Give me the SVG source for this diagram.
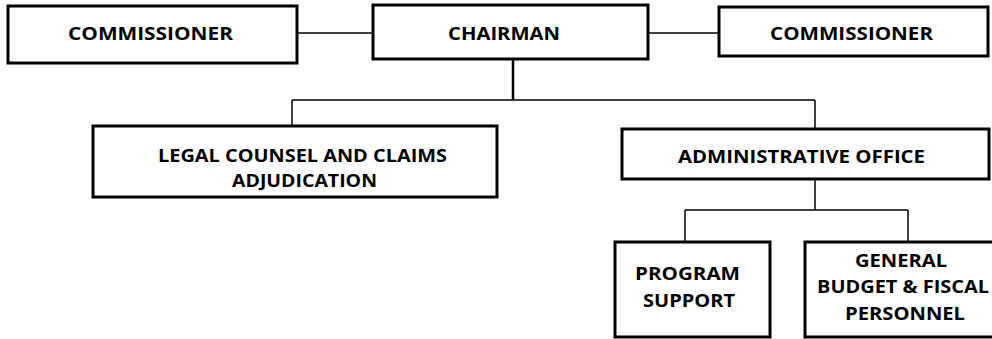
<svg xmlns="http://www.w3.org/2000/svg" width="992" height="339" viewBox="0 0 992 339">
<style>
.box{fill:#fff;stroke:#000;stroke-width:3}
.t{font-family:"Open Sans","Liberation Sans",sans-serif;font-weight:700;font-size:18.5px;fill:#000;text-anchor:middle}
.c{stroke:#000;stroke-width:1.5;fill:none}
</style>
<rect width="992" height="339" fill="#fff"/>
<g id="connectors">
<line class="c" x1="297" y1="33" x2="373" y2="33"/>
<line class="c" x1="648" y1="33" x2="719" y2="33"/>
<line class="c" x1="513" y1="59" x2="513" y2="100" style="stroke-width:2.5"/>
<line class="c" x1="292" y1="100" x2="815" y2="100"/>
<line class="c" x1="292" y1="100" x2="292" y2="126"/>
<line class="c" x1="815" y1="100" x2="815" y2="129"/>
<line class="c" x1="815" y1="179" x2="815" y2="210"/>
<line class="c" x1="685" y1="210" x2="908" y2="210"/>
<line class="c" x1="685" y1="210" x2="685" y2="242"/>
<line class="c" x1="908" y1="210" x2="908" y2="242"/>
</g>
<g id="commissioner-left">
<rect class="box" x="8" y="6" width="289" height="57"/>
<text class="t" x="150.5" y="40" textLength="165" lengthAdjust="spacingAndGlyphs">COMMISSIONER</text>
</g>
<g id="chairman">
<rect class="box" x="373" y="5" width="275" height="54"/>
<text class="t" x="504" y="40" textLength="112" lengthAdjust="spacingAndGlyphs">CHAIRMAN</text>
</g>
<g id="commissioner-right">
<rect class="box" x="719" y="7" width="269" height="49"/>
<text class="t" x="851.5" y="40" textLength="163" lengthAdjust="spacingAndGlyphs">COMMISSIONER</text>
</g>
<g id="legal">
<rect class="box" x="93" y="126" width="404" height="71"/>
<text class="t" x="302.5" y="162" textLength="289" lengthAdjust="spacingAndGlyphs">LEGAL COUNSEL AND CLAIMS</text>
<text class="t" x="304.5" y="187" textLength="145" lengthAdjust="spacingAndGlyphs">ADJUDICATION</text>
</g>
<g id="admin">
<rect class="box" x="622" y="129" width="367" height="50"/>
<text class="t" x="801.5" y="163" textLength="247" lengthAdjust="spacingAndGlyphs">ADMINISTRATIVE OFFICE</text>
</g>
<g id="program">
<rect class="box" x="615" y="242" width="155" height="95"/>
<text class="t" x="687.5" y="280" textLength="105" lengthAdjust="spacingAndGlyphs">PROGRAM</text>
<text class="t" x="689" y="307" textLength="92" lengthAdjust="spacingAndGlyphs">SUPPORT</text>
</g>
<g id="general">
<rect class="box" x="805" y="242" width="200" height="95"/>
<text class="t" x="901" y="267" textLength="92" lengthAdjust="spacingAndGlyphs">GENERAL</text>
<text class="t" x="903" y="293" textLength="172" lengthAdjust="spacingAndGlyphs">BUDGET &amp; FISCAL</text>
<text class="t" x="905" y="320" textLength="120" lengthAdjust="spacingAndGlyphs">PERSONNEL</text>
</g>
</svg>
